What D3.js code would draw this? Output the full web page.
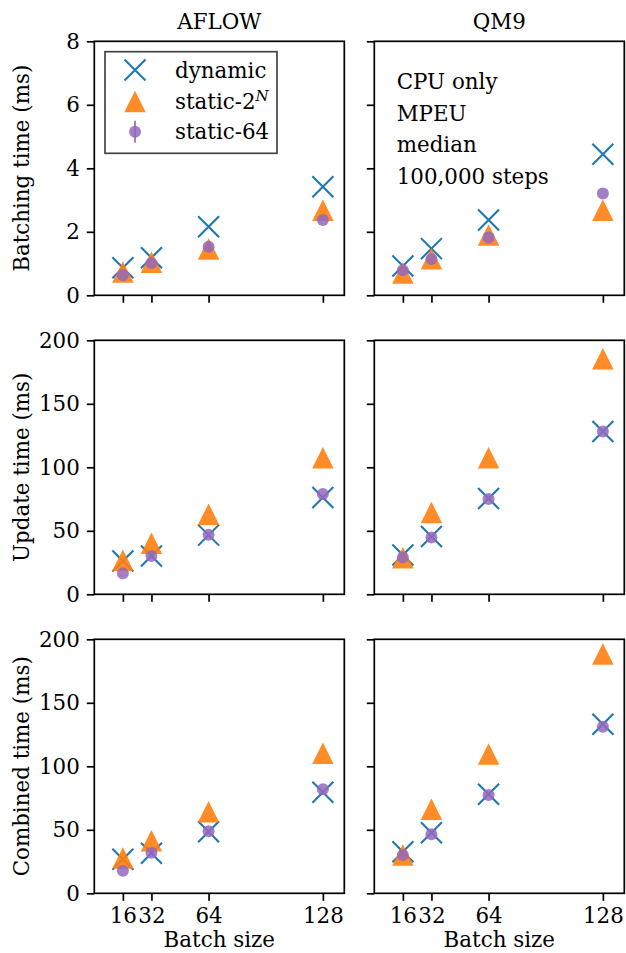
<!DOCTYPE html>
<html>
<head>
<meta charset="utf-8">
<script src="https://cdn.jsdelivr.net/npm/d3@7"></script>
<style>
  body { margin: 0; background: #fff; }
  svg { display: block; }
  svg text { font-family: "DejaVu Serif", "Liberation Serif", serif !important; fill: #000; }
</style>
</head>
<body>
<div class="container-chart"></div>
<script>

// batch sizes on the x axis
var batchSizes = [16, 32, 64, 128];
var xTicks = [16, 32, 64, 128];

// batching time (ms)
var aflowBatchDynamic = [0.87, 1.18, 2.16, 3.42];
var aflowBatchStatic2N = [0.73, 1.04, 1.46, 2.68];
var aflowBatchStatic64 = [0.63, 1.02, 1.53, 2.37];
var qm9BatchDynamic = [0.92, 1.47, 2.37, 4.44];
var qm9BatchStatic2N = [0.70, 1.15, 1.90, 2.68];
var qm9BatchStatic64 = [0.79, 1.14, 1.82, 3.21];

// update time (ms)
var aflowUpdateDynamic = [26.3, 30.2, 46.6, 76.3];
var aflowUpdateStatic2N = [26.8, 40.2, 63.1, 107.6];
var aflowUpdateStatic64 = [16.6, 30.2, 46.8, 78.9];
var qm9UpdateDynamic = [31.0, 45.5, 75.5, 128.1];
var qm9UpdateStatic2N = [28.7, 64.4, 107.6, 185.5];
var qm9UpdateStatic64 = [28.9, 44.7, 75.0, 128.1];

// combined time (ms)
var aflowCombinedDynamic = [26.8, 31.5, 48.5, 79.5];
var aflowCombinedStatic2N = [27.8, 41.4, 64.3, 110.2];
var aflowCombinedStatic64 = [17.8, 32.0, 48.8, 81.9];
var qm9CombinedDynamic = [32.8, 47.7, 78.0, 133.1];
var qm9CombinedStatic2N = [30.2, 66.1, 109.7, 188.4];
var qm9CombinedStatic64 = [30.2, 46.5, 77.4, 131.2];

var columnTitles = ["AFLOW", "QM9"];
var rowLabels = ["Batching time (ms)", "Update time (ms)", "Combined time (ms)"];
var batchTicks = [0, 2, 4, 6, 8];
var timeTicks = [0, 50, 100, 150, 200];
var seriesNames = ["dynamic", "static-2", "static-64"];
var noteLines = ["CPU only", "MPEU", "median", "100,000 steps"];

var panels = [
    { row: 0, col: 0, max: 8, ticks: batchTicks, dyn: aflowBatchDynamic, s2n: aflowBatchStatic2N, s64: aflowBatchStatic64 },
    { row: 0, col: 1, max: 8, ticks: batchTicks, dyn: qm9BatchDynamic, s2n: qm9BatchStatic2N, s64: qm9BatchStatic64 },
    { row: 1, col: 0, max: 200, ticks: timeTicks, dyn: aflowUpdateDynamic, s2n: aflowUpdateStatic2N, s64: aflowUpdateStatic64 },
    { row: 1, col: 1, max: 200, ticks: timeTicks, dyn: qm9UpdateDynamic, s2n: qm9UpdateStatic2N, s64: qm9UpdateStatic64 },
    { row: 2, col: 0, max: 200, ticks: timeTicks, dyn: aflowCombinedDynamic, s2n: aflowCombinedStatic2N, s64: aflowCombinedStatic64 },
    { row: 2, col: 1, max: 200, ticks: timeTicks, dyn: qm9CombinedDynamic, s2n: qm9CombinedStatic2N, s64: qm9CombinedStatic64 }
];

var width = 626;
var height = 953;
var colLeft = [94.3, 374.3];
var rowTop = [41.3, 340.3, 639.3];
var panelW = 250;
var panelH = 254;

var blue = "#1f77b4";
var orange = "#ff7f0e";
var purple = "#9467bd";
var fontSize = 21.4;
var serif = "'DejaVu Serif', 'Liberation Serif', serif";

var svg = d3.select(".container-chart")
    .append("svg")
    .attr("width", width)
    .attr("height", height)
    .attr("font-family", serif);

// marker helpers
function drawCross(g, x, y, size) {
    var h = size / 2;
    g.append("path")
        .attr("d", "M" + (x - h) + "," + (y - h) + "L" + (x + h) + "," + (y + h) +
                   "M" + (x - h) + "," + (y + h) + "L" + (x + h) + "," + (y - h))
        .attr("stroke", blue)
        .attr("stroke-width", 2.1)
        .attr("fill", "none");
}

function drawTriangle(g, x, y, size) {
    var h = size / 2;
    g.append("path")
        .attr("d", "M" + x + "," + (y - h) + "L" + (x + h) + "," + (y + h) + "L" + (x - h) + "," + (y + h) + "Z")
        .attr("fill", orange)
        .attr("fill-opacity", 0.9);
}

function drawDot(g, x, y, r) {
    g.append("circle")
        .attr("cx", x)
        .attr("cy", y)
        .attr("r", r)
        .attr("fill", purple)
        .attr("fill-opacity", 0.85);
}

panels.forEach(function (p) {
    var left = colLeft[p.col];
    var top = rowTop[p.row];

    var x = d3.scaleLinear().domain([0, 140]).range([left, left + panelW]);
    var y = d3.scaleLinear().domain([0, p.max]).range([top + panelH, top]);

    var g = svg.append("g").attr("class", "panel");

    // y axis
    var yAxis = d3.axisLeft(y)
        .tickValues(p.ticks)
        .tickSize(7.5)
        .tickSizeOuter(0)
        .tickPadding(7)
        .tickFormat(p.col === 0 ? d3.format("d") : "");
    var ya = g.append("g")
        .attr("transform", "translate(" + left + ",0)")
        .call(yAxis);

    // x axis
    var xAxis = d3.axisBottom(x)
        .tickValues(xTicks)
        .tickSize(7.5)
        .tickSizeOuter(0)
        .tickPadding(7)
        .tickFormat(p.row === 2 ? d3.format("d") : "");
    var xa = g.append("g")
        .attr("transform", "translate(0," + (top + panelH) + ")")
        .call(xAxis);

    [ya, xa].forEach(function (a) {
        a.attr("font-family", serif).attr("font-size", fontSize);
        a.select(".domain").remove();
        a.selectAll(".tick line").attr("stroke", "#000").attr("stroke-width", 1.7);
        a.selectAll(".tick text").attr("fill", "#000");
    });

    // markers: dynamic, then static-2^N, then static-64 on top
    var marks = g.append("g");
    batchSizes.forEach(function (b, i) {
        drawCross(marks, x(b), y(p.dyn[i]), 21);
    });
    batchSizes.forEach(function (b, i) {
        drawTriangle(marks, x(b), y(p.s2n[i]), 21.5);
    });
    batchSizes.forEach(function (b, i) {
        drawDot(marks, x(b), y(p.s64[i]), 6);
    });

    // frame
    g.append("rect")
        .attr("x", left)
        .attr("y", top)
        .attr("width", panelW)
        .attr("height", panelH)
        .attr("fill", "none")
        .attr("stroke", "#000")
        .attr("stroke-width", 1.7);

    if (p.row === 0) {
        g.append("text")
            .attr("x", left + panelW / 2)
            .attr("y", top - 12.5)
            .attr("text-anchor", "middle")
            .attr("font-size", fontSize)
            .text(columnTitles[p.col]);
    }
    if (p.col === 0) {
        g.append("text")
            .attr("transform", "translate(29," + (top + panelH / 2) + ") rotate(-90)")
            .attr("text-anchor", "middle")
            .attr("font-size", fontSize)
            .text(rowLabels[p.row]);
    }
    if (p.row === 2) {
        g.append("text")
            .attr("x", left + panelW / 2)
            .attr("y", 947)
            .attr("text-anchor", "middle")
            .attr("font-size", fontSize)
            .text("Batch size");
    }

    // legend in the first panel
    if (p.row === 0 && p.col === 0) {
        var lg = g.append("g");
        lg.append("rect")
            .attr("x", 105)
            .attr("y", 51.7)
            .attr("width", 172)
            .attr("height", 101.6)
            .attr("fill", "#fff")
            .attr("stroke", "#444")
            .attr("stroke-width", 1.7);
        var rowsY = [70, 101.5, 131.7];
        drawCross(lg, 135, rowsY[0], 21);
        drawTriangle(lg, 135, rowsY[1], 21.5);
        lg.append("line")
            .attr("x1", 135).attr("x2", 135)
            .attr("y1", rowsY[2] - 11).attr("y2", rowsY[2] + 11)
            .attr("stroke", purple)
            .attr("stroke-opacity", 0.85)
            .attr("stroke-width", 2);
        drawDot(lg, 135, rowsY[2], 6);
        seriesNames.forEach(function (name, i) {
            var t = lg.append("text")
                .attr("x", 175)
                .attr("y", rowsY[i] + 7.5)
                .attr("font-size", fontSize)
                .text(name);
            if (i === 1) {
                t.append("tspan")
                    .attr("dy", -8.5)
                    .attr("font-size", 15)
                    .attr("font-style", "italic")
                    .text("N");
            }
        });
    }

    // note text in the QM9 batching panel
    if (p.row === 0 && p.col === 1) {
        noteLines.forEach(function (line, i) {
            g.append("text")
                .attr("x", 396.7)
                .attr("y", 89 + i * 31.7)
                .attr("font-size", fontSize)
                .text(line);
        });
    }
});

</script>
</body>
</html>
